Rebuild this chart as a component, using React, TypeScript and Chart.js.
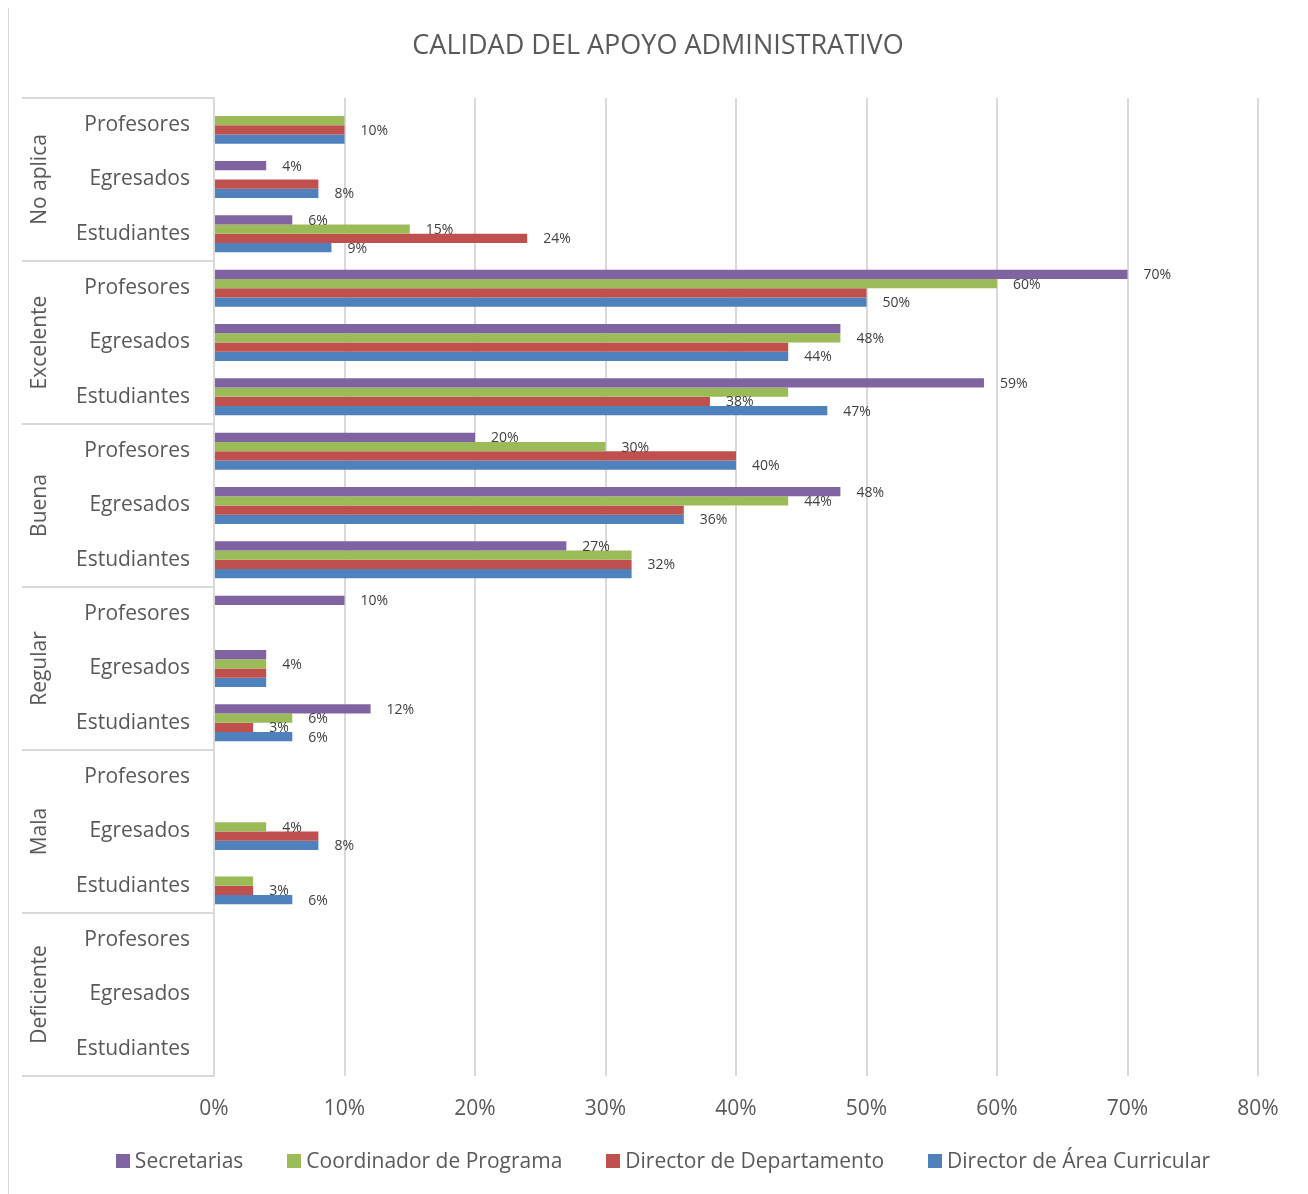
import React, { useEffect, useRef } from "react";
import { Chart, registerables } from "chart.js";

Chart.register(...registerables);

const FONT = "'Open Sans', sans-serif";

const chartTitle = "CALIDAD DEL APOYO ADMINISTRATIVO";
const groups = ["No aplica", "Excelente", "Buena", "Regular", "Mala", "Deficiente"];
const subgroups = ["Profesores", "Egresados", "Estudiantes"];
const seriesNames = [
  "Secretarias",
  "Coordinador de Programa",
  "Director de Departamento",
  "Director de Área Curricular",
];
const seriesColors = ["#8064A2", "#9BBB59", "#C0504D", "#4F81BD"];

// values (%) in category order, top to bottom
const secretarias = [0, 4, 6, 70, 48, 59, 20, 48, 27, 10, 4, 12, 0, 0, 0, 0, 0, 0];
const coordinador = [10, 0, 15, 60, 48, 44, 30, 44, 32, 0, 4, 6, 0, 4, 3, 0, 0, 0];
const directorDep = [10, 8, 24, 50, 44, 38, 40, 36, 32, 0, 4, 3, 0, 8, 3, 0, 0, 0];
const directorArea = [10, 8, 9, 50, 44, 47, 40, 36, 32, 0, 4, 6, 0, 8, 6, 0, 0, 0];

// which data labels are visible (1 = shown)
const secretariasLabels = [0, 1, 1, 1, 0, 1, 1, 1, 1, 1, 0, 1, 0, 0, 0, 0, 0, 0];
const coordinadorLabels = [0, 0, 1, 1, 1, 0, 1, 1, 0, 0, 1, 1, 0, 1, 0, 0, 0, 0];
const directorDepLabels = [1, 0, 1, 0, 0, 1, 0, 0, 1, 0, 0, 1, 0, 0, 1, 0, 0, 0];
const directorAreaLabels = [0, 1, 1, 1, 1, 1, 1, 1, 0, 0, 0, 1, 0, 1, 1, 0, 0, 0];

const xTicks = [0, 10, 20, 30, 40, 50, 60, 70, 80];

const seriesValues = [secretarias, coordinador, directorDep, directorArea];
const seriesLabelFlags = [secretariasLabels, coordinadorLabels, directorDepLabels, directorAreaLabels];

const CANVAS_W = 1298;
const CANVAS_H = 1192;

const overlayPlugin = {
  id: "overlay",
  afterDraw(chart: any) {
    const ctx = chart.ctx as CanvasRenderingContext2D;
    const ca = chart.chartArea;
    ctx.save();

    // Title
    ctx.fillStyle = "#595959";
    ctx.font = `27px ${FONT}`;
    ctx.textAlign = "center";
    ctx.textBaseline = "middle";
    ctx.fillText(chartTitle, 649, 40);

    // Group separators and labels
    const gh = (ca.bottom - ca.top) / groups.length;
    ctx.strokeStyle = "#d9d9d9";
    ctx.lineWidth = 2;
    for (let i = 0; i <= groups.length; i++) {
      const y = Math.round(ca.top + i * gh);
      ctx.beginPath();
      ctx.moveTo(13, y);
      ctx.lineTo(ca.left, y);
      ctx.stroke();
    }
    ctx.fillStyle = "#595959";
    ctx.font = `21px ${FONT}`;
    for (let i = 0; i < groups.length; i++) {
      ctx.save();
      ctx.translate(31, ca.top + (i + 0.5) * gh);
      ctx.rotate(-Math.PI / 2);
      ctx.textAlign = "center";
      ctx.textBaseline = "middle";
      ctx.fillText(groups[i], 0, 0);
      ctx.restore();
    }

    // Data labels
    ctx.fillStyle = "#404040";
    ctx.font = `14px ${FONT}`;
    ctx.textAlign = "left";
    ctx.textBaseline = "middle";
    chart.data.datasets.forEach((ds: any, di: number) => {
      const meta = chart.getDatasetMeta(di);
      const flags = seriesLabelFlags[di];
      meta.data.forEach((el: any, i: number) => {
        if (!flags[i]) return;
        ctx.fillText(`${ds.data[i]}%`, el.x + 16, el.y + 1);
      });
    });

    // Legend
    ctx.font = `21px ${FONT}`;
    ctx.textBaseline = "middle";
    const box = 14;
    const gapBoxText = 5;
    const gapItems = 44;
    const widths = seriesNames.map((n) => box + gapBoxText + ctx.measureText(n).width);
    const total = widths.reduce((a, b) => a + b, 0) + gapItems * (seriesNames.length - 1);
    let x = 654 - total / 2;
    const ly = 1155;
    seriesNames.forEach((n, i) => {
      ctx.fillStyle = seriesColors[i];
      ctx.fillRect(Math.round(x), ly - box / 2, box, box);
      ctx.fillStyle = "#595959";
      ctx.fillText(n, x + box + gapBoxText, ly + 1);
      x += widths[i] + gapItems;
    });

    ctx.restore();
  },
};

export default function App() {
  const canvasRef = useRef<HTMLCanvasElement | null>(null);

  useEffect(() => {
    if (!canvasRef.current) return;
    const labels: string[] = [];
    groups.forEach((g) => subgroups.forEach((s) => labels.push(`${g}|${s}`)));

    const chart = new Chart(canvasRef.current, {
      type: "bar",
      data: {
        labels,
        datasets: seriesNames.map((name, i) => ({
          label: name,
          data: seriesValues[i],
          backgroundColor: seriesColors[i],
          borderWidth: 0,
          categoryPercentage: 0.68,
          barPercentage: 1,
        })),
      },
      options: {
        indexAxis: "y",
        responsive: false,
        animation: false,
        layout: { padding: { top: 92, right: 49, left: 0, bottom: 0 } },
        plugins: {
          legend: { display: false },
          title: { display: false },
          tooltip: { enabled: false },
        },
        scales: {
          x: {
            type: "linear",
            min: xTicks[0],
            max: xTicks[xTicks.length - 1],
            afterBuildTicks: (scale: any) => {
              scale.ticks = xTicks.map((v) => ({ value: v }));
            },
            ticks: {
              callback: (v: any) => `${v}%`,
              font: { family: FONT, size: 21 },
              color: "#595959",
              padding: 20,
              maxRotation: 0,
            },
            grid: { color: "#d9d9d9", lineWidth: 2, drawTicks: false },
            border: { display: false },
            afterFit: (scale: any) => {
              scale.height = 122;
            },
          },
          y: {
            type: "category",
            ticks: {
              callback: function (this: any, v: any, i: number) {
                return subgroups[i % subgroups.length];
              },
              font: { family: FONT, size: 21 },
              color: "#595959",
              padding: 24,
              autoSkip: false,
            },
            grid: { display: false, drawTicks: false },
            border: { display: true, color: "#d9d9d9", width: 2 },
            afterFit: (scale: any) => {
              scale.width = 205;
            },
          },
        },
      },
      plugins: [overlayPlugin],
    } as any);

    return () => chart.destroy();
  }, []);

  return (
    <div
      style={{
        width: CANVAS_W,
        height: CANVAS_H,
        marginTop: -3,
        border: "1px solid #d9d9d9",
        background: "#fff",
      }}
    >
      <canvas ref={canvasRef} width={CANVAS_W} height={CANVAS_H} style={{ display: "block" }} />
    </div>
  );
}
